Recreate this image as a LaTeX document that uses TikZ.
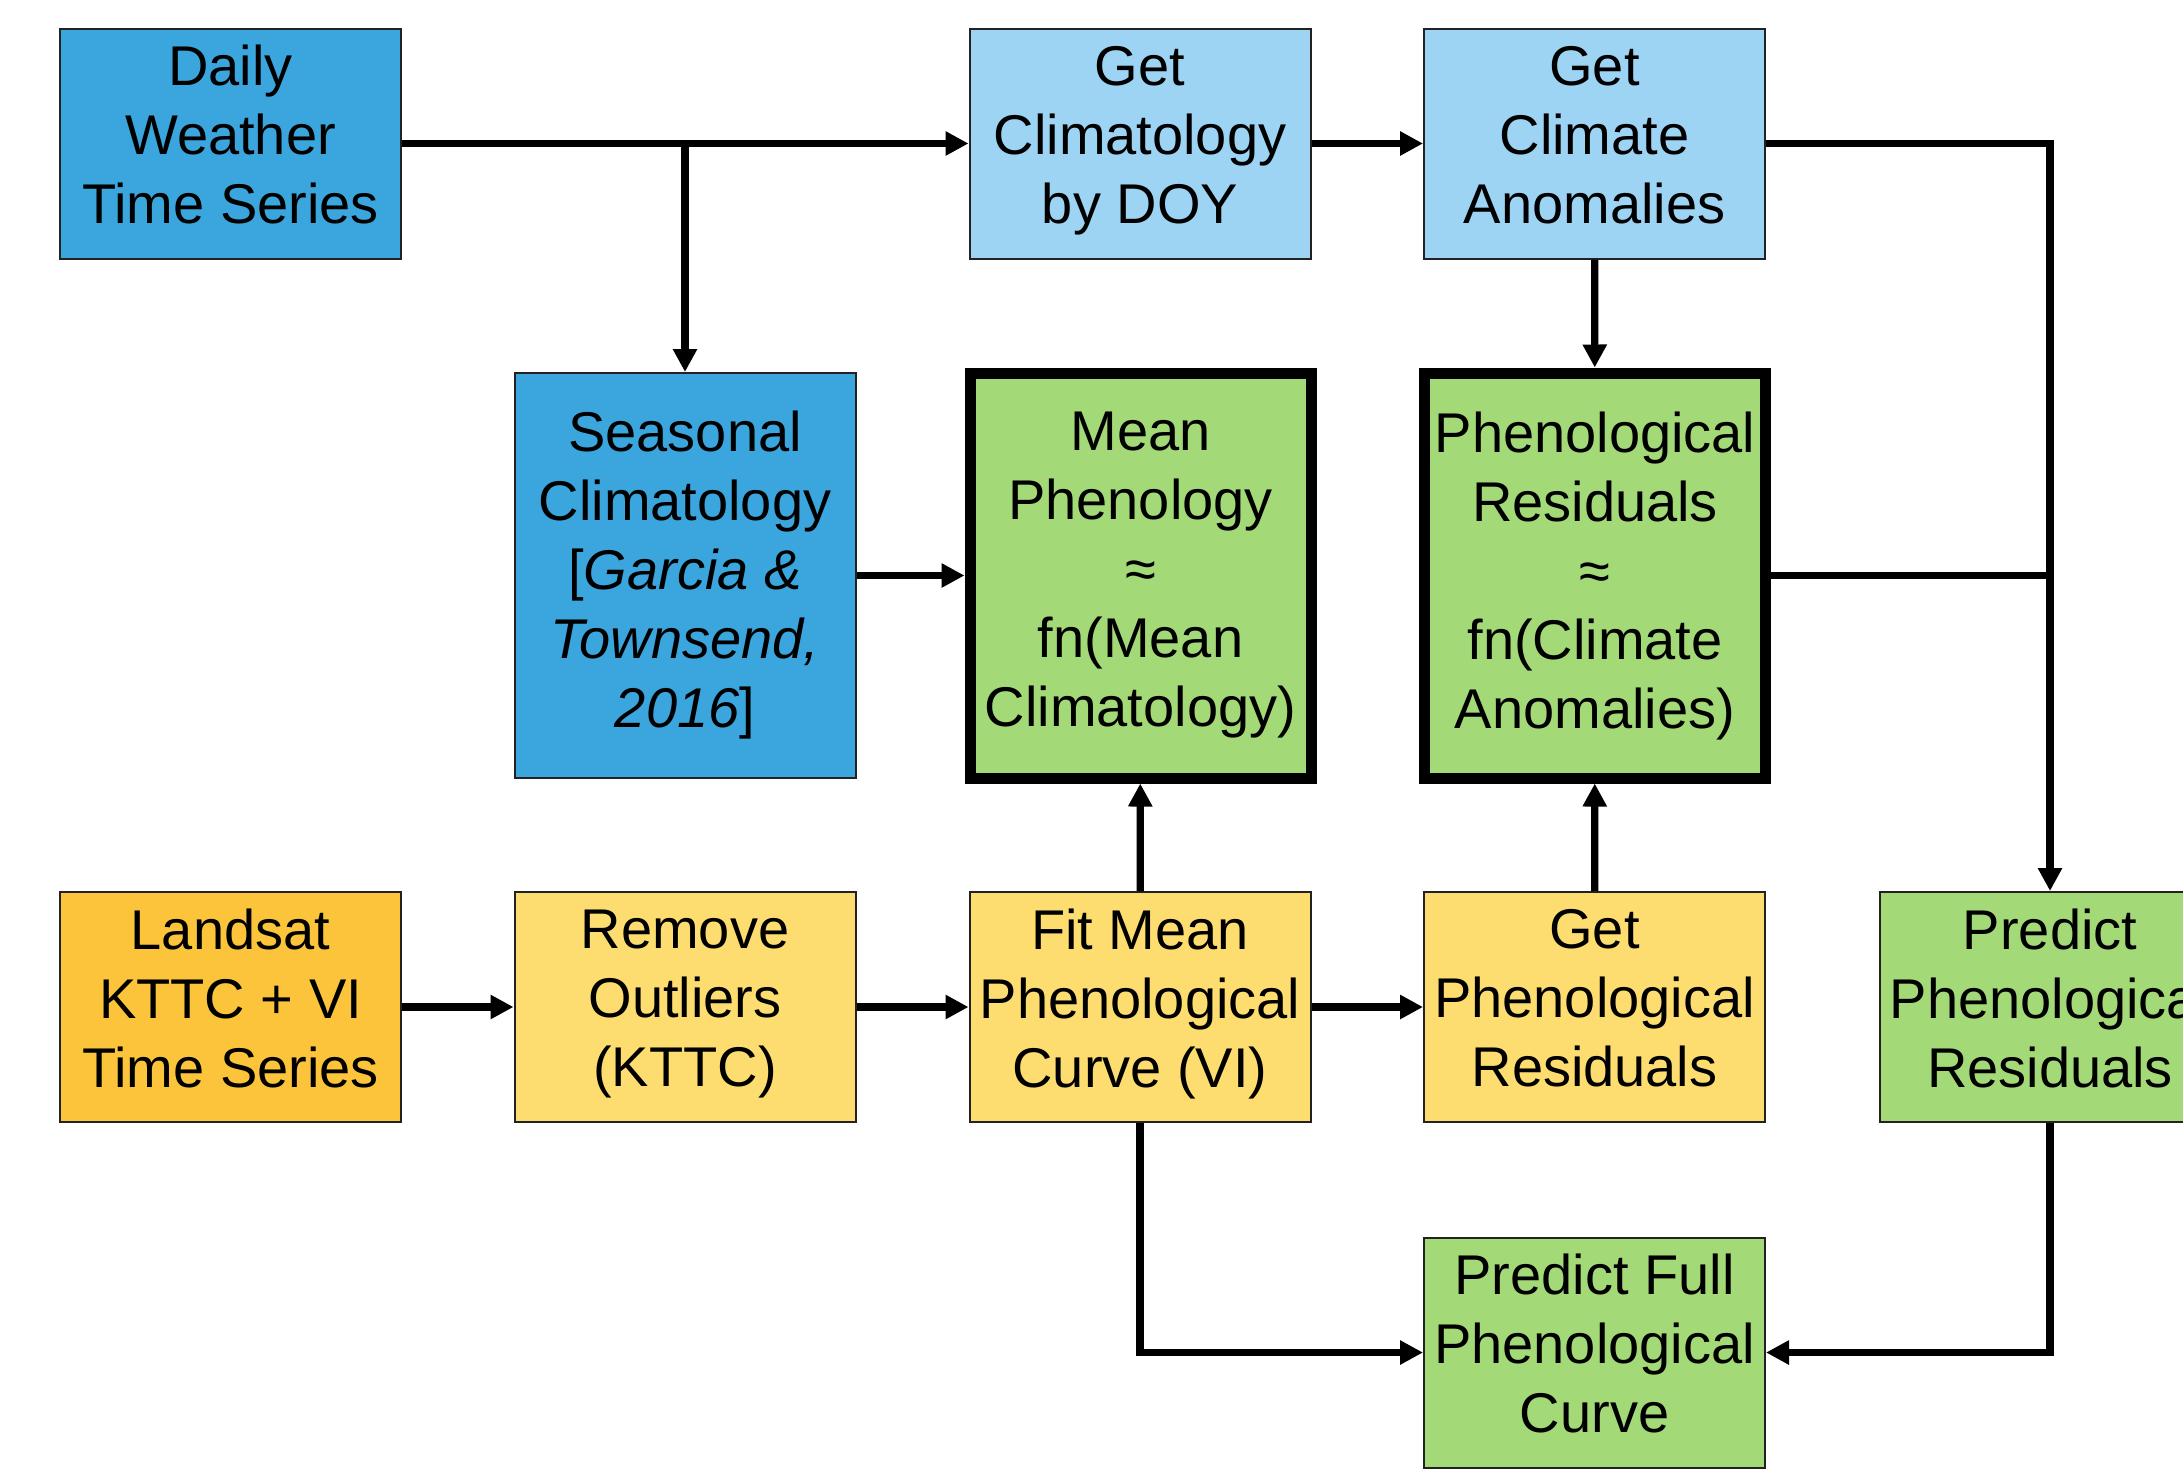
\documentclass[tikz,border=0pt]{standalone}
\usepackage{fontspec}
\setmainfont{Liberation Sans}
\usetikzlibrary{arrows.meta}
\definecolor{dblue}{RGB}{59,165,221}
\definecolor{lblue}{RGB}{157,211,243}
\definecolor{lgreen}{RGB}{163,217,119}
\definecolor{orng}{RGB}{251,196,59}
\definecolor{lyel}{RGB}{254,221,112}
\definecolor{edge}{RGB}{34,34,34}
\tikzset{
  box/.style={draw=edge, line width=1pt, minimum width=170.5pt, minimum height=115pt, inner sep=0pt, align=center, font=\fontsize{28}{34.5}\selectfont, text depth=9pt},
  tallbox/.style={draw=edge, line width=1pt, minimum width=170.5pt, minimum height=202.5pt, inner sep=0pt, align=center, font=\fontsize{28}{34.5}\selectfont},
  thickbox/.style={tallbox, draw=black, line width=5.5pt},
  conn/.style={line width=3.6pt, draw=black},
  arr/.style={conn, -{Triangle[length=11.5pt,width=11.5pt]}}
}
\begin{document}
\begin{tikzpicture}[x=0.5pt,y=-0.5pt]
\clip (0,0) rectangle (2183,1472);
\fill[white] (0,0) rectangle (2183,1472);
% row 1
\node[box, fill=dblue] (daily) at (230.5,143.5) {Daily\\Weather\\Time Series};
\node[box, fill=lblue] (clim) at (1140,143.5) {Get\\Climatology\\by DOY};
\node[box, fill=lblue] (anom) at (1594.5,143.5) {Get\\Climate\\Anomalies};
% row 2
\node[tallbox, fill=dblue] (seas) at (685,575.5) {Seasonal\\Climatology\\{[}\textit{Garcia \&}\\\textit{Townsend,}\\\textit{2016}{]}};
\node[thickbox, fill=lgreen] (meanph) at (1140.5,575.5) {Mean\\Phenology\\≈\\fn(Mean\\Climatology)};
\node[thickbox, fill=lgreen] (phres) at (1595,575.5) {Phenological\\Residuals\\≈\\fn(Climate\\Anomalies)};
% row 3
\node[box, fill=orng] (land) at (230.5,1007) {Landsat\\KTTC + VI\\Time Series};
\node[box, fill=lyel] (outl) at (685,1007) {Remove\\Outliers\\(KTTC)};
\node[box, fill=lyel] (fit) at (1140,1007) {Fit Mean\\Phenological\\Curve (VI)};
\node[box, fill=lyel] (getres) at (1594.5,1007) {Get\\Phenological\\Residuals};
\node[box, fill=lgreen] (pred) at (2050,1007) {Predict\\Phenological\\Residuals};
% row 4
\node[box, fill=lgreen] (full) at (1594.5,1352.5) {Predict Full\\Phenological\\Curve};
% connectors
\draw[arr] (daily) -- (clim);
\draw[arr] (daily.east -| seas.north) -- (seas.north);
\draw[arr] (clim) -- (anom);
\draw[arr] (anom) -- (phres);
\draw[arr] (anom.east) -| (pred.north);
\draw[conn] (phres.east) -- (phres.east -| pred.north);
\draw[arr] (seas) -- (meanph);
\draw[arr] (land) -- (outl);
\draw[arr] (outl) -- (fit);
\draw[arr] (fit) -- (getres);
\draw[arr] (fit) -- (meanph);
\draw[arr] (getres) -- (phres);
\draw[arr] (fit.south) |- (full.west);
\draw[arr] (pred.south) |- (full.east);
\end{tikzpicture}
\end{document}
